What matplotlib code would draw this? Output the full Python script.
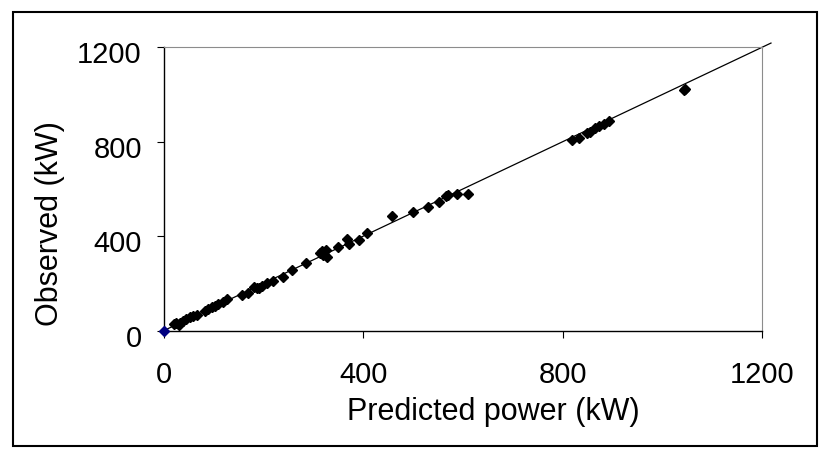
import matplotlib
matplotlib.use('Agg')
import matplotlib.pyplot as plt
import matplotlib.transforms as mtransforms
from matplotlib.patches import Rectangle

# Predicted vs observed power (kW)
predicted = [20, 25, 30, 32, 39, 45, 52, 59, 66, 82, 89, 96, 102, 109, 119, 126,
             156, 169, 180, 186, 190, 196, 206, 219, 238, 256, 285, 313, 318, 320,
             325, 328, 350, 368, 372, 392, 408, 458, 499, 530, 552, 565, 570, 588,
             610, 818, 832, 848, 855, 865, 872, 882, 892, 1043, 1045]
observed = [28, 31, 25, 33, 42, 47, 56, 61, 66, 83, 90, 98, 104, 111, 122, 132,
            150, 160, 184, 179, 180, 189, 200, 210, 228, 256, 287, 327, 335, 320,
            341, 313, 353, 386, 366, 383, 414, 487, 503, 523, 544, 570, 574, 578,
            578, 807, 814, 838, 842, 857, 866, 875, 889, 1020, 1025]
origin_pt = [0]
line_ends = [0, 1218]
ticks = [0, 400, 800, 1200]

plt.rcParams['font.family'] = ['Liberation Sans', 'DejaVu Sans']

fig = plt.figure(figsize=(8.23, 4.54), dpi=100)
ax = fig.add_axes([0.1993, 0.272, 0.7266, 0.6238])

# 1:1 line
ax.plot(line_ends, line_ends, color='black', linewidth=0.9, clip_on=False, zorder=2)
ax.plot(predicted, observed, linestyle='none', marker='D', markersize=4.6,
        color='black', zorder=3)
ax.plot(origin_pt, origin_pt, linestyle='none', marker='D', markersize=4.6,
        color='#000080', clip_on=False, zorder=4)

ax.set_xlim(0, 1200)
ax.set_ylim(0, 1200)
ax.set_xticks(ticks)
ax.set_yticks(ticks)
ax.tick_params(axis='both', direction='out', length=5, width=0.8, labelsize=21)
ax.tick_params(axis='x', pad=17)
ax.tick_params(axis='y', pad=11)

for s in ['top', 'right']:
    ax.spines[s].set_color('#8c8c8c')
    ax.spines[s].set_linewidth(0.8)
for s in ['left', 'bottom']:
    ax.spines[s].set_color('black')
    ax.spines[s].set_linewidth(1.0)

offset = mtransforms.ScaledTranslation(0, -0.05, fig.dpi_scale_trans)
for lab in ax.get_yticklabels():
    lab.set_transform(lab.get_transform() + offset)

ax.set_xlabel('Predicted power (kW)', fontsize=22)
ax.set_ylabel('Observed (kW)', fontsize=22)
ax.xaxis.set_label_coords(0.55, -0.288)
ax.yaxis.label.set_verticalalignment('center')
ax.xaxis.label.set_verticalalignment('center')
ax.yaxis.set_label_coords(-0.19, 0.378)

# chart border
fig.patches.append(Rectangle((13 / 823, 1 - 446 / 454), (817 - 13) / 823, (446 - 12) / 454,
                             transform=fig.transFigure, fill=False,
                             edgecolor='black', linewidth=1.5))

fig.savefig('out.png', dpi=100)
